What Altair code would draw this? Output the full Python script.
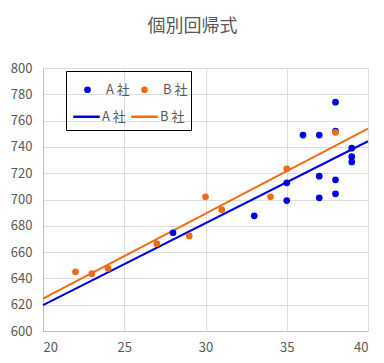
import altair as alt
import pandas as pd

# Data
companies = ["A 社", "B 社"]
a_x = [28, 33, 35, 35, 36, 37, 37, 37, 38, 38, 38, 38, 39, 39, 39]
a_y = [674.7, 687.6, 712.7, 699.2, 749, 749, 717.7, 701.3, 774, 752, 715, 704.3, 739, 732.6, 728.6]
b_x = [22, 23, 24, 27, 29, 30, 31, 34, 35, 38]
b_y = [645, 643.6, 647.6, 666.4, 672.3, 702, 692.3, 702, 723.3, 751]

# Regression line end points (x = 20 and x = 40)
line_x = [20, 40]
a_line_y = [619.7, 744.3]
b_line_y = [624.6, 753.9]

x_ticks = [20, 25, 30, 35, 40]
y_ticks = [600, 620, 640, 660, 680, 700, 720, 740, 760, 780, 800]

colors = ["#0000E6", "#F26B12"]
FONT = "Noto Sans CJK JP"

pts = pd.DataFrame({
    "x": a_x + b_x,
    "y": a_y + b_y,
    "company": [companies[0]] * len(a_x) + [companies[1]] * len(b_x),
})
lines = pd.DataFrame({
    "x": line_x + line_x,
    "y": a_line_y + b_line_y,
    "company": [companies[0]] * 2 + [companies[1]] * 2,
})

xs = alt.Scale(domain=[20, 40], nice=False)
ys = alt.Scale(domain=[600, 800], nice=False)
xa = alt.Axis(values=x_ticks, title=None, grid=True, ticks=False, labelPadding=10,
              domainColor="#BFBFBF", labelColor="#595959", labelFontSize=13, labelFont=FONT)
ya = alt.Axis(values=y_ticks, title=None, grid=True, ticks=False, labelPadding=11,
              domainColor="#BFBFBF", labelColor="#595959", labelFontSize=13, labelFont=FONT)

point_layer = alt.Chart(pts).mark_circle(size=45, opacity=1).encode(
    x=alt.X("x:Q", scale=xs, axis=xa),
    y=alt.Y("y:Q", scale=ys, axis=ya),
    color=alt.Color(
        "company:N",
        scale=alt.Scale(domain=companies, range=colors),
        legend=alt.Legend(
            title=None, orient="none", legendX=38, legendY=15, direction="horizontal",
            columns=2, symbolSize=45, symbolType="circle", labelOffset=12,
            columnPadding=8, padding=0, labelFont=FONT, labelFontSize=13,
            labelColor="#595959",
        ),
    ),
)

line_layer = alt.Chart(lines).mark_line(strokeWidth=2).encode(
    x=alt.X("x:Q", scale=xs, axis=xa),
    y=alt.Y("y:Q", scale=ys, axis=ya),
    color=alt.Color(
        "company:N",
        scale=alt.Scale(domain=companies, range=colors),
        legend=alt.Legend(
            title="\u3000", titleOrient="top", titleFontSize=19, titlePadding=6,
            orient="none", legendX=23, legendY=3, direction="horizontal",
            columns=2, symbolType="stroke", symbolSize=700, symbolStrokeWidth=2.5,
            labelOffset=1, columnPadding=0, padding=6,
            strokeColor="black", labelFont=FONT, labelFontSize=13,
            labelColor="#595959",
        ),
    ),
)

chart = (
    alt.layer(line_layer, point_layer)
    .resolve_scale(color="independent")
    .properties(
        width=325,
        height=263,
        title=alt.TitleParams(
            "個別回帰式", font=FONT, fontSize=18, fontWeight="normal",
            color="#595959", anchor="middle", offset=26, dx=-13,
        ),
        autosize=alt.AutoSizeParams(type="none"),
        padding={"left": 35, "top": 60, "right": 8, "bottom": 24},
    )
    .configure_view(stroke="black", strokeWidth=1)
    .configure_axis(gridColor="#D9D9D9")
    .configure(background="white")
)

chart.save("out.html", embed_options={"renderer": "svg", "actions": False})
